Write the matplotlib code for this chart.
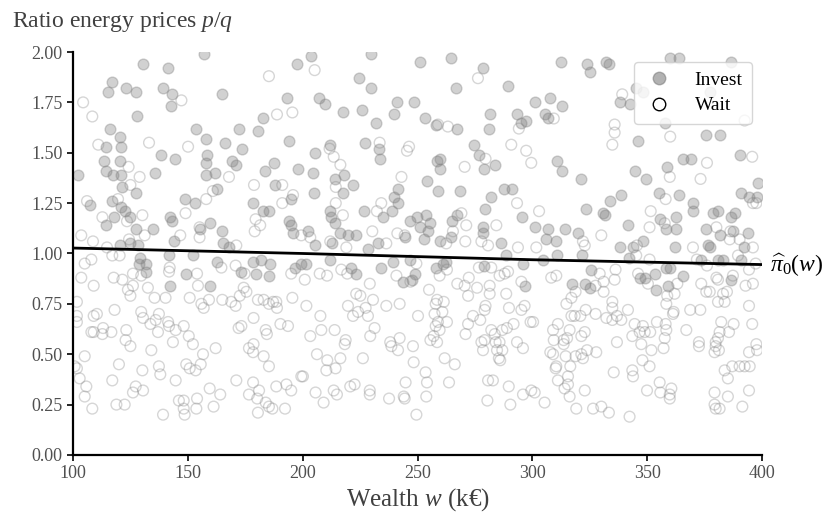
"""
Invest / wait decisions against wealth and energy price ratio.
"""

import matplotlib.pyplot as plt
from matplotlib.lines import Line2D

# Invest decisions: wealth (k€) and price ratio p/q.
invest_w = [
    130.5, 141.4, 157.0, 197.5, 117.1, 115.2, 123.2, 127.3, 139.2, 143.1,
    142.5, 164.9, 193.2, 128.0, 182.7, 116.3, 120.3, 114.5, 120.7, 153.7,
    157.7, 166.3, 172.1, 173.7, 180.5, 194.0, 113.3, 120.3, 138.3, 144.4,
    158.5, 158.0, 169.1, 170.8, 114.5, 117.4, 120.7, 135.5, 157.7, 161.7,
    183.4, 187.4, 198.1, 102.0, 121.5, 127.3, 187.9, 162.7, 107.3, 117.1,
    121.0, 122.8, 125.0, 148.6, 153.3, 178.4, 182.7, 185.2, 195.0, 118.0,
    114.5, 142.1, 143.2, 159.5, 155.3, 164.7, 127.3, 134.8, 194.0, 195.0,
    195.8, 120.6, 124.7, 128.4, 143.8, 165.1, 167.9,
    203.8, 229.9, 251.2, 264.7, 278.5, 224.5, 229.9, 266.9, 289.4, 207.1,
    209.7, 217.4, 225.8, 241.0, 248.3, 239.6, 231.8, 253.4, 258.2, 267.2,
    281.4, 281.1, 293.4, 297.3, 295.2, 211.7, 227.3, 233.2, 233.5, 205.2,
    258.5, 259.6, 259.9, 274.6, 276.6, 278.8, 283.6, 204.5, 213.9, 218.0,
    221.9, 217.5, 204.8, 254.1, 258.9, 268.3, 241.6, 239.6, 241.5, 281.8,
    287.6, 291.3, 279.2, 226.7, 235.0, 238.7, 211.7, 212.5, 214.1, 246.9,
    249.8, 253.8, 255.3, 250.9, 254.4, 265.1, 267.2, 295.6, 202.3, 216.4,
    219.7, 223.3, 244.4, 252.7, 259.6, 264.7, 278.5, 278.5, 205.2, 212.9,
    228.3, 232.8, 286.5,
    312.6, 323.9, 325.0, 332.2, 333.3, 359.8, 363.8, 386.3, 301.0, 307.8,
    313.0, 305.3, 306.8, 338.3, 342.6, 346.0, 375.7, 381.8, 310.7, 313.0,
    321.3, 365.6, 369.2, 390.2, 344.5, 349.3, 358.7, 338.7, 355.1, 363.8,
    369.9, 369.9, 391.0, 394.3, 398.2, 397.8, 323.5, 330.7, 331.5, 333.6,
    362.7, 378.6, 380.8, 388.0, 386.6, 341.6, 355.4, 358.3, 362.4, 375.7,
    381.5, 387.3, 393.8, 301.3, 306.8, 314.1, 319.9, 305.8, 310.4, 338.0,
    343.8, 348.1, 362.0, 376.4, 377.2, 392.0, 348.1, 345.2, 357.6, 377.2,
    129.0, 128.7, 131.6, 131.9, 141.6, 142.1, 149.3, 152.2, 159.5, 162.7,
    173.3, 178.4, 179.5, 182.0, 185.3, 185.9, 196.5, 199.4,
    201.6, 211.7, 221.2, 223.4, 234.2, 239.3, 243.7, 246.6, 248.7, 247.7,
    257.9, 261.1, 262.2, 278.8, 288.6, 295.9, 296.6,
    304.6, 310.7, 321.7, 325.7, 317.4, 322.8, 325.2, 342.0, 346.7, 348.9,
    353.2, 353.7, 358.3, 360.0, 359.0, 365.6, 373.5, 380.8, 383.0, 386.6,
    391.0,
]
invest_ratio = [
    1.94, 1.92, 1.99, 1.94, 1.85, 1.80, 1.82, 1.80, 1.82, 1.79,
    1.73, 1.79, 1.77, 1.68, 1.67, 1.62, 1.58, 1.53, 1.53, 1.62,
    1.57, 1.55, 1.62, 1.52, 1.61, 1.56, 1.46, 1.46, 1.49, 1.47,
    1.49, 1.45, 1.46, 1.44, 1.41, 1.39, 1.39, 1.40, 1.39, 1.40,
    1.41, 1.45, 1.42, 1.39, 1.33, 1.30, 1.34, 1.32, 1.24, 1.26,
    1.23, 1.21, 1.18, 1.27, 1.25, 1.25, 1.21, 1.21, 1.27, 1.18,
    1.14, 1.18, 1.16, 1.15, 1.12, 1.11, 1.12, 1.12, 1.16, 1.14,
    1.10, 1.04, 1.05, 1.04, 1.06, 1.05, 1.03,
    1.98, 1.99, 1.95, 1.97, 1.92, 1.87, 1.82, 1.82, 1.83, 1.77,
    1.74, 1.70, 1.71, 1.75, 1.75, 1.69, 1.65, 1.67, 1.64, 1.62,
    1.69, 1.62, 1.69, 1.66, 1.65, 1.54, 1.55, 1.52, 1.47, 1.50,
    1.46, 1.47, 1.42, 1.54, 1.49, 1.42, 1.44, 1.40, 1.37, 1.39,
    1.34, 1.30, 1.30, 1.36, 1.31, 1.31, 1.32, 1.28, 1.25, 1.28,
    1.32, 1.32, 1.22, 1.21, 1.18, 1.21, 1.21, 1.18, 1.15, 1.16,
    1.18, 1.19, 1.15, 1.13, 1.11, 1.16, 1.19, 1.18, 1.11, 1.10,
    1.09, 1.09, 1.08, 1.07, 1.06, 1.08, 1.13, 1.10, 1.04, 1.05,
    1.02, 1.05, 1.05,
    1.95, 1.94, 1.90, 1.95, 1.94, 1.97, 1.97, 1.95, 1.75, 1.77,
    1.73, 1.69, 1.67, 1.75, 1.74, 1.56, 1.59, 1.59, 1.46, 1.41,
    1.37, 1.47, 1.47, 1.49, 1.41, 1.37, 1.43, 1.29, 1.30, 1.29,
    1.25, 1.21, 1.30, 1.28, 1.35, 1.28, 1.22, 1.20, 1.19, 1.26,
    1.18, 1.20, 1.21, 1.20, 1.18, 1.14, 1.17, 1.12, 1.12, 1.12,
    1.09, 1.11, 1.10, 1.13, 1.12, 1.12, 1.10, 1.07, 1.06, 1.03,
    1.03, 1.06, 1.03, 1.04, 1.03, 1.03, 1.80, 1.82, 1.65, 1.80,
    0.98, 0.95, 0.95, 0.91, 0.99, 0.84, 0.90, 0.99, 0.84, 0.96,
    0.91, 0.96, 0.90, 0.97, 0.89, 0.95, 0.93, 0.95,
    0.95, 0.97, 0.93, 0.90, 0.93, 0.96, 0.86, 0.97, 0.90, 0.87,
    0.93, 0.95, 0.96, 0.94, 0.99, 0.95, 0.84,
    0.97, 0.99, 0.99, 0.92, 0.85, 0.85, 0.83, 0.98, 0.88, 0.88,
    0.90, 0.82, 0.93, 0.93, 0.84, 0.89, 0.97, 0.97, 0.97, 0.87,
    0.97,
]

# Wait decisions: wealth (k€) and price ratio p/q.
wait_w = [
    104.4, 108.4, 185.3, 147.2, 188.8, 195.5, 133.1, 111.0, 150.1, 124.2,
    129.0, 167.9, 178.8, 191.1, 125.0, 106.1, 119.6, 158.0, 160.9, 195.8,
    191.1, 149.0, 130.2, 112.8, 123.5, 179.5, 181.5, 179.1, 155.1, 155.1,
    146.7, 131.2, 103.6, 108.7, 124.4, 114.8, 171.1, 199.4,
    205.2, 276.3, 211.7, 213.5, 216.4, 233.5, 246.3, 245.4, 270.5, 279.6,
    290.8, 297.3, 299.5, 243.0, 214.4, 214.4, 217.5, 234.2, 232.3, 269.1,
    271.2, 284.3, 293.3, 265.4, 230.3, 241.2, 244.4, 203.3, 212.0, 219.0,
    236.4, 262.5, 270.8, 277.8, 280.7, 293.7, 294.1, 263.2, 258.9,
    309.3, 339.1, 335.8, 335.8, 334.8, 360.0, 376.0, 373.2, 359.8, 395.7,
    358.0, 351.5, 396.0, 397.5, 302.9, 330.0, 322.0, 322.8, 351.0, 357.6,
    380.1, 386.2, 385.9, 390.2, 396.0, 345.5, 369.9, 301.7, 392.4,
    105.1, 108.0, 103.6, 109.0, 117.7, 121.5, 120.3, 117.1, 126.1, 129.7,
    123.9, 126.1, 125.0, 132.6, 135.5, 140.3, 142.1, 141.8, 154.0, 154.4,
    150.8, 155.9, 156.9, 159.2, 165.0, 168.9, 164.6, 170.8, 172.6, 174.7,
    174.3, 170.8, 175.5, 180.5, 183.0, 185.3, 187.1, 188.5, 188.8, 195.5,
    195.0, 101.7, 101.7, 101.7, 109.0, 110.4, 118.1, 129.7, 130.5, 137.4,
    136.0, 133.7, 141.4, 141.8, 144.7, 148.2, 108.0, 109.0, 113.1, 112.8,
    116.7, 123.2, 122.9, 125.0, 134.1, 137.0, 143.5, 150.4, 152.2, 162.1,
    172.1, 173.3, 178.6, 183.9, 184.4, 190.3, 193.6, 176.6, 178.6, 178.4,
    183.0, 185.3, 105.1, 120.0, 130.2, 137.4, 138.0, 149.3, 150.8, 153.4,
    155.6, 156.6, 100.7, 101.7, 102.9, 117.1, 105.8, 127.3, 126.1, 130.5,
    144.7, 105.1, 108.4, 118.9, 122.5, 139.2, 146.1, 148.2, 148.2, 148.6,
    154.0, 153.7, 159.5, 161.2, 164.1, 171.1, 176.6, 178.4, 181.0, 180.2,
    183.9, 185.3, 186.8, 180.5, 188.5, 192.9, 195.0, 192.3, 199.4,
    200.9, 201.6, 207.4, 210.6, 216.8, 219.4, 229.2, 223.3, 225.1, 230.6,
    219.7, 227.4, 224.1, 221.9, 228.4, 236.4, 242.2, 240.8, 246.9, 249.5,
    259.6, 262.8, 255.0, 257.9, 258.5, 261.4, 257.4, 260.8, 258.9, 257.9,
    262.8, 259.6, 257.0, 255.6, 258.5, 267.3, 270.5, 272.3, 272.0, 275.9,
    281.4, 281.4, 279.6, 279.2, 276.7, 282.1, 285.7, 287.9, 289.4, 295.2,
    288.6, 289.8, 295.2, 296.6, 274.1, 277.3, 272.0, 270.9, 282.1, 283.6,
    286.9, 288.9, 291.8, 299.2, 293.3, 295.9, 207.7, 208.1, 203.3, 213.9,
    231.3, 229.4, 218.7, 218.3, 238.1, 238.6, 242.2, 241.5, 248.0, 250.2,
    277.8, 279.2, 278.5, 284.0, 285.7, 286.9, 284.6, 285.4, 286.0, 206.2,
    210.7, 210.3, 214.3, 216.4, 226.2, 248.3, 261.8, 266.2, 253.5, 200.1,
    244.8, 254.1, 263.7, 205.6, 213.5, 214.9, 209.1, 220.7, 222.6, 229.2,
    229.2, 237.6, 244.0, 244.4, 253.8, 249.5, 280.7, 282.8, 280.4, 289.7,
    290.4, 295.9, 299.5,
    308.2, 310.4, 329.3, 336.2, 335.8, 327.5, 331.0, 331.0, 318.8, 317.0,
    314.8, 334.8, 334.8, 341.6, 346.0, 350.3, 351.0, 345.2, 358.7, 361.9,
    358.3, 363.1, 361.5, 373.5, 375.7, 377.2, 380.1, 380.8, 387.3, 392.8,
    396.0, 394.3, 397.2, 371.6, 376.0, 389.5, 380.8, 383.7, 383.0, 384.7,
    394.3, 300.3, 311.1, 309.0, 316.2, 322.8, 321.3, 327.5, 323.2, 318.4,
    320.9, 317.0, 332.2, 334.8, 336.8, 338.7, 344.5, 348.1, 346.7, 343.5,
    348.9, 351.3, 354.2, 358.0, 358.3, 357.6, 357.1, 361.2, 367.0, 368.7,
    373.1, 382.2, 387.6, 395.7, 381.5, 385.6, 380.8, 379.8, 379.8, 381.2,
    379.3, 372.5, 372.5, 394.3, 397.5, 397.8, 309.3, 313.6, 315.1, 313.6,
    307.8, 309.0, 314.5, 318.8, 321.3, 322.0, 323.8, 327.8, 336.8, 347.4,
    351.8, 316.5, 310.4, 310.1, 315.5, 315.5, 311.1, 347.9, 351.0, 343.5,
    343.8, 335.4, 387.0, 390.2, 392.4, 394.6, 383.7, 385.1, 301.0, 305.3,
    314.0, 316.2, 322.8, 319.1, 326.4, 330.0, 333.3, 342.3, 349.9, 355.4,
    355.7, 360.5, 359.8, 359.8, 379.3, 385.1, 394.3, 391.4, 379.3, 379.8,
    381.5,
]
wait_ratio = [
    1.75, 1.68, 1.88, 1.76, 1.69, 1.70, 1.55, 1.54, 1.53, 1.43,
    1.38, 1.38, 1.34, 1.34, 1.34, 1.26, 1.27, 1.27, 1.31, 1.29,
    1.25, 1.20, 1.19, 1.18, 1.16, 1.17, 1.14, 1.11, 1.13, 1.08,
    1.09, 1.09, 1.09, 1.06, 1.07, 1.03, 1.04, 1.09,
    1.91, 1.87, 1.52, 1.48, 1.44, 1.55, 1.53, 1.51, 1.43, 1.47,
    1.54, 1.51, 1.45, 1.38, 1.33, 1.25, 1.19, 1.25, 1.21, 1.20,
    1.14, 1.14, 1.25, 1.11, 1.11, 1.10, 1.09, 1.08, 1.06, 1.03,
    1.05, 1.05, 1.06, 1.06, 1.04, 1.03, 1.62, 1.63, 1.64,
    1.67, 1.79, 1.64, 1.60, 1.54, 1.58, 1.45, 1.37, 1.38, 1.48,
    1.27, 1.21, 1.25, 1.25, 1.21, 1.09, 1.06, 1.04, 1.13, 1.15,
    1.13, 1.11, 1.07, 1.07, 1.03, 1.04, 1.03, 1.03, 1.66,
    0.95, 0.97, 0.88, 0.84, 0.88, 0.87, 0.99, 0.99, 0.90, 0.89,
    0.82, 0.84, 0.79, 0.83, 0.78, 0.78, 0.93, 0.91, 0.90, 0.84,
    0.78, 0.75, 0.73, 0.77, 0.77, 0.76, 0.93, 0.94, 0.79, 0.90,
    0.83, 0.74, 0.81, 0.77, 0.77, 0.75, 0.76, 0.76, 0.73, 0.78,
    0.90, 0.76, 0.69, 0.66, 0.69, 0.70, 0.72, 0.71, 0.68, 0.70,
    0.67, 0.65, 0.66, 0.64, 0.62, 0.64, 0.61, 0.61, 0.63, 0.60,
    0.61, 0.62, 0.57, 0.54, 0.52, 0.61, 0.56, 0.59, 0.55, 0.53,
    0.63, 0.64, 0.68, 0.62, 0.60, 0.65, 0.64, 0.53, 0.55, 0.51,
    0.49, 0.44, 0.49, 0.45, 0.42, 0.44, 0.40, 0.45, 0.43, 0.42,
    0.45, 0.50, 0.44, 0.43, 0.38, 0.37, 0.34, 0.34, 0.31, 0.32,
    0.37, 0.29, 0.23, 0.25, 0.25, 0.20, 0.27, 0.27, 0.23, 0.20,
    0.28, 0.23, 0.33, 0.24, 0.30, 0.37, 0.30, 0.36, 0.32, 0.28,
    0.26, 0.24, 0.23, 0.21, 0.34, 0.35, 0.32, 0.23, 0.39,
    0.87, 0.74, 0.90, 0.89, 0.92, 0.90, 0.85, 0.80, 0.79, 0.77,
    0.74, 0.73, 0.71, 0.69, 0.69, 0.74, 0.75, 0.89, 0.86, 0.95,
    0.89, 0.92, 0.82, 0.75, 0.77, 0.76, 0.70, 0.71, 0.66, 0.64,
    0.66, 0.62, 0.59, 0.57, 0.56, 0.85, 0.84, 0.88, 0.79, 0.83,
    0.84, 0.80, 0.74, 0.72, 0.93, 0.93, 0.89, 0.90, 0.91, 0.86,
    0.80, 0.73, 0.72, 0.74, 0.69, 0.67, 0.65, 0.60, 0.62, 0.60,
    0.62, 0.63, 0.65, 0.66, 0.56, 0.53, 0.69, 0.62, 0.59, 0.62,
    0.63, 0.59, 0.57, 0.55, 0.56, 0.54, 0.58, 0.52, 0.54, 0.69,
    0.56, 0.57, 0.52, 0.56, 0.56, 0.52, 0.52, 0.48, 0.47, 0.50,
    0.47, 0.42, 0.43, 0.48, 0.48, 0.46, 0.48, 0.45, 0.41, 0.39,
    0.36, 0.36, 0.36, 0.31, 0.32, 0.30, 0.26, 0.34, 0.35, 0.32,
    0.30, 0.28, 0.29, 0.28, 0.29, 0.20, 0.37, 0.37, 0.27, 0.34,
    0.25, 0.30, 0.32,
    0.88, 0.89, 0.90, 0.92, 0.87, 0.84, 0.86, 0.81, 0.81, 0.78,
    0.75, 0.76, 0.73, 0.72, 0.90, 0.85, 0.97, 0.99, 0.79, 0.80,
    0.75, 0.85, 0.71, 0.85, 0.81, 0.81, 0.88, 0.87, 0.89, 0.84,
    0.85, 0.92, 0.95, 0.97, 0.94, 0.99, 0.76, 0.76, 0.80, 0.81,
    0.74, 0.66, 0.65, 0.62, 0.62, 0.61, 0.59, 0.70, 0.72, 0.69,
    0.69, 0.69, 0.68, 0.67, 0.69, 0.67, 0.65, 0.64, 0.61, 0.59,
    0.61, 0.61, 0.66, 0.65, 0.62, 0.58, 0.53, 0.70, 0.62, 0.72,
    0.72, 0.66, 0.65, 0.65, 0.61, 0.61, 0.58, 0.56, 0.54, 0.52,
    0.51, 0.56, 0.54, 0.51, 0.55, 0.52, 0.57, 0.57, 0.58, 0.55,
    0.51, 0.50, 0.49, 0.49, 0.50, 0.48, 0.52, 0.51, 0.56, 0.55,
    0.52, 0.44, 0.44, 0.43, 0.39, 0.35, 0.37, 0.47, 0.44, 0.42,
    0.39, 0.41, 0.44, 0.44, 0.44, 0.44, 0.42, 0.38, 0.31, 0.26,
    0.33, 0.29, 0.32, 0.23, 0.23, 0.24, 0.21, 0.19, 0.32, 0.36,
    0.31, 0.33, 0.30, 0.28, 0.31, 0.29, 0.32, 0.24, 0.25, 0.23,
    0.23,
]

# Estimated decision threshold pi_0(w).
threshold_w = [100, 200, 300, 400]
threshold_ratio = [1.027, 1.00, 0.969, 0.945]

plt.rcParams["font.family"] = ["Liberation Serif", "DejaVu Serif"]
plt.rcParams["mathtext.fontset"] = "custom"
plt.rcParams["mathtext.rm"] = "Liberation Serif"
plt.rcParams["mathtext.it"] = "Liberation Serif:italic"

fig, ax = plt.subplots(figsize=(8.23, 5.17), dpi=100)
fig.subplots_adjust(left=0.0887, right=0.926, bottom=0.12, top=0.8994)

grey = (0.5, 0.5, 0.5)
ax.scatter(invest_w, invest_ratio, s=60, color=grey, alpha=0.36,
           linewidths=1.0, zorder=2)
ax.scatter(wait_w, wait_ratio, s=60, facecolors="none",
           edgecolors=(0.5, 0.5, 0.5, 0.32), linewidths=1.0, zorder=2)

ax.plot(threshold_w, threshold_ratio, color="black", linewidth=2, zorder=3)
ax.annotate(r"$\widehat{\pi}_0(w)$", xy=(threshold_w[-1], threshold_ratio[-1]),
            xytext=(6, 0), textcoords="offset points", ha="left", va="center",
            fontsize=17, annotation_clip=False)

ax.set_xlim(100, 400)
ax.set_ylim(0, 2.0)
ax.set_xticks([100, 150, 200, 250, 300, 350, 400])
ax.set_yticks([0, 0.25, 0.5, 0.75, 1.0, 1.25, 1.5, 1.75, 2.0])
ax.yaxis.set_major_formatter(plt.FormatStrFormatter("%.2f"))

for side in ("top", "right"):
    ax.spines[side].set_visible(False)
for side in ("left", "bottom"):
    ax.spines[side].set_linewidth(1.6)
    ax.spines[side].set_color("black")

ax.tick_params(labelsize=13, labelcolor="#505050", length=4, width=1.2)

ax.set_xlabel(r"Wealth $w$ (k€)", fontsize=18, color="#404040", labelpad=3)
fig.text(0.014, 0.958, r"Ratio energy prices $p/q$", fontsize=17,
         color="#404040", ha="left", va="center")

handles = [
    Line2D([], [], linestyle="none", marker="o", markersize=9,
           markerfacecolor=(0.5, 0.5, 0.5, 0.6),
           markeredgecolor=(0.5, 0.5, 0.5, 0.6), label="Invest"),
    Line2D([], [], linestyle="none", marker="o", markersize=9,
           markerfacecolor="white", markeredgecolor="black", label="Wait"),
]
ax.legend(handles=handles, loc="upper right", bbox_to_anchor=(1.0, 1.0),
          fontsize=14, handlelength=1.5, handletextpad=1.1, borderpad=0.5,
          labelspacing=0.4, borderaxespad=0.5)

fig.savefig("out.png", dpi=100)
